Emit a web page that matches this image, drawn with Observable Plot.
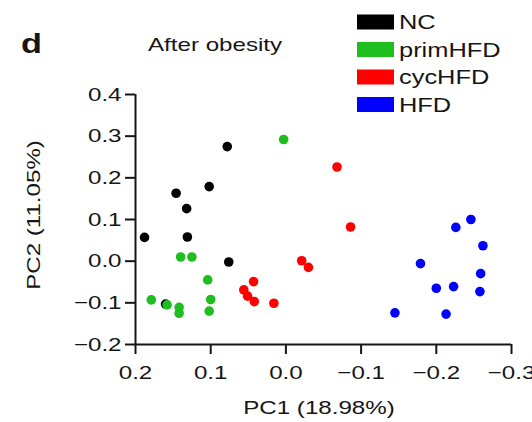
<!DOCTYPE html>
<html><head><meta charset="utf-8">
<script src="https://cdn.jsdelivr.net/npm/d3@7"></script>
<script src="https://cdn.jsdelivr.net/npm/@observablehq/plot@0.6"></script>
<style>
html,body{margin:0;padding:0;background:#fff;}
#wrap{position:relative;width:532px;height:422px;}
</style></head><body><div id="wrap"></div>
<script>
// Groups and colours
const groups = ["NC", "primHFD", "cycHFD", "HFD"];
const groupColors = ["#000000", "#1ebe1e", "#ff0000", "#0000ff"];

// PCA scores
const ncPC1 = [0.078, 0.102, 0.146, 0.132, 0.188, 0.131, 0.076, 0.160];
const ncPC2 = [0.275, 0.179, 0.163, 0.126, 0.057, 0.058, -0.002, -0.103];

const primPC1 = [0.003, 0.140, 0.125, 0.104, 0.179, 0.158, 0.142, 0.142, 0.100, 0.102];
const primPC2 = [0.292, 0.010, 0.010, -0.045, -0.093, -0.105, -0.111, -0.125, -0.092, -0.120];

const cycPC1 = [-0.068, -0.086, -0.021, -0.030, 0.043, 0.056, 0.051, 0.042, 0.016];
const cycPC2 = [0.226, 0.082, 0.001, -0.015, -0.049, -0.069, -0.084, -0.097, -0.101];

const hfdPC1 = [-0.246, -0.226, -0.262, -0.179, -0.259, -0.200, -0.223, -0.258, -0.145, -0.213];
const hfdPC2 = [0.100, 0.081, 0.037, -0.006, -0.030, -0.065, -0.061, -0.073, -0.124, -0.127];

// Ticks and labels
const xTicks = [0.2, 0.1, 0.0, -0.1, -0.2, -0.3];
const yTicks = [0.4, 0.3, 0.2, 0.1, 0.0, -0.1, -0.2];
const panelLetter = "d";
const titleText = "After obesity";
const xLabel = "PC1 (18.98%)";
const yLabel = "PC2 (11.05%)";

const series = [[ncPC1, ncPC2], [primPC1, primPC2], [cycPC1, cycPC2], [hfdPC1, hfdPC2]];
const data = [];
series.forEach(([xs, ys], gi) => xs.forEach((v, i) => data.push({group: groups[gi], pc1: v, pc2: ys[i]})));

const fmt = d3.format(".1f");
const FONT = "'Liberation Sans', Arial, Helvetica, sans-serif";
const INK = "#161616";

const chart = Plot.plot({
  width: 532, height: 422,
  marginLeft: 135, marginRight: 21, marginTop: 94, marginBottom: 78,
  style: {fontFamily: FONT, fontSize: "19px", background: "white", color: INK, overflow: "visible"},
  x: {domain: [0.2, -0.3]},
  y: {domain: [-0.2, 0.4]},
  color: {domain: groups, range: groupColors},
  marks: [
    Plot.axisX({ticks: xTicks, tickSize: 10, tickPadding: 11, tickFormat: fmt, label: null, strokeWidth: 2, fontSize: 19}),
    Plot.axisY({ticks: yTicks, tickSize: 10, tickPadding: 4, tickFormat: fmt, label: null, strokeWidth: 2, fontSize: 19}),
    Plot.ruleY([-0.2], {strokeWidth: 2, stroke: INK}),
    Plot.ruleX([0.2], {strokeWidth: 2, stroke: INK}),
    Plot.dot(data, {x: "pc1", y: "pc2", fill: "group", r: 4.8})
  ]
});
document.getElementById("wrap").appendChild(chart);

// Annotations: panel letter, title, axis labels, legend
const svg = d3.select(chart);
const ann = svg.append("g").attr("font-family", FONT).attr("fill", INK).attr("text-anchor", "start");
ann.append("text").attr("x", 21).attr("y", 53).attr("font-size", 27).attr("font-weight", "bold").attr("text-anchor", "start").text(panelLetter);
ann.append("text").attr("x", 148).attr("y", 51).attr("font-size", 19).attr("text-anchor", "start").text(titleText);
ann.append("text").attr("x", 319).attr("y", 414).attr("font-size", 19).attr("text-anchor", "middle").text(xLabel);
ann.append("text").attr("transform", "translate(40,215) rotate(-90)").attr("font-size", 19).attr("text-anchor", "middle").text(yLabel);

const legendY = [22, 49.5, 77, 104.5];
groups.forEach((g, i) => {
  ann.append("rect").attr("x", 357).attr("y", legendY[i] - 7.5).attr("width", 37).attr("height", 15).attr("fill", groupColors[i]);
  ann.append("text").attr("x", 399).attr("y", legendY[i] + 7).attr("font-size", 20).attr("text-anchor", "start").text(g);
});

// Wide lettering of the original: stretch every text along its direction
const K = 1.27;
chart.querySelectorAll("text").forEach(t => {
  const w = t.getComputedTextLength();
  if (w > 0) {
    t.setAttribute("textLength", (w * K).toFixed(2));
    t.setAttribute("lengthAdjust", "spacingAndGlyphs");
  }
});
</script></body></html>
